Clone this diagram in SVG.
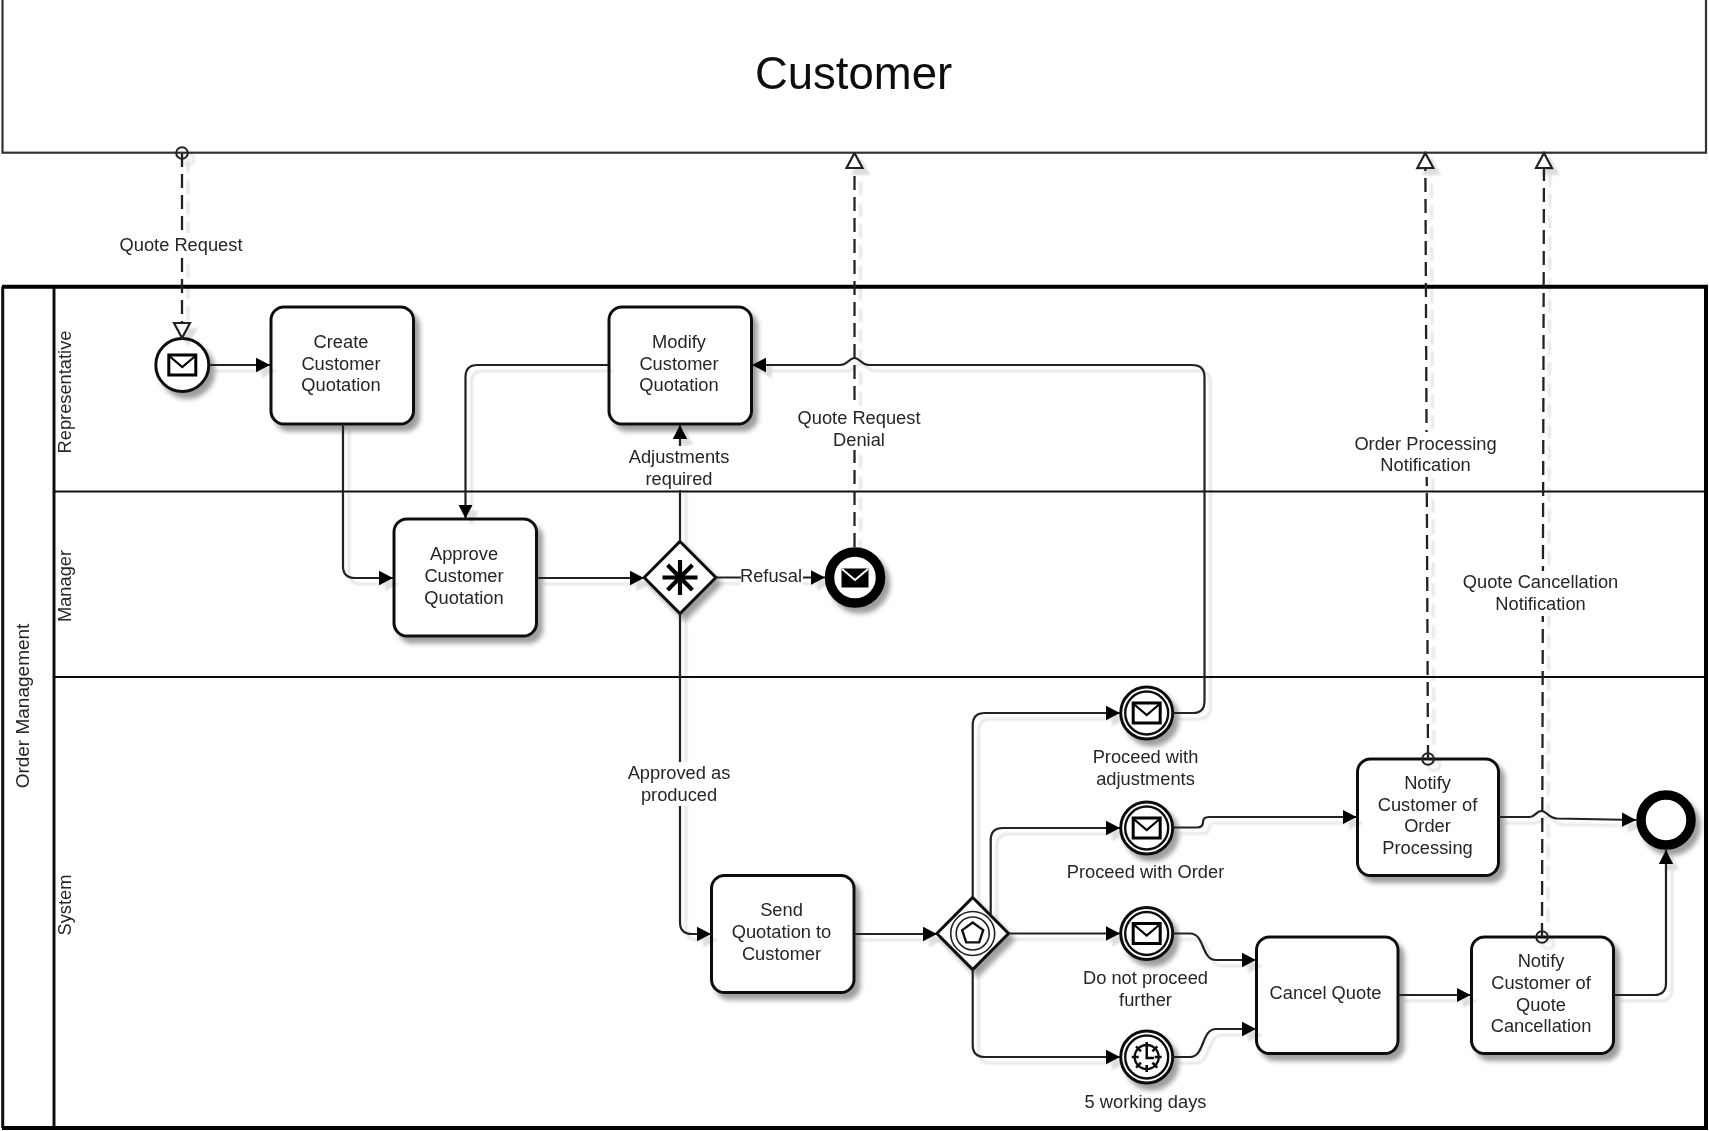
<svg xmlns="http://www.w3.org/2000/svg" width="1709" height="1131" viewBox="0 0 1709 1131">
<style>
text{font-family:"Liberation Sans",Arial,sans-serif;font-size:18.3px;fill:#262626;text-anchor:middle}
.box{fill:#fff;stroke:#111;stroke-width:3}
.flow{fill:none;stroke:#222;stroke-width:2.2;marker-end:url(#arrow)}
.msg{fill:none;stroke:#222;stroke-width:2.3;stroke-dasharray:14 7}
.line{fill:none;stroke:#111}
.bg{fill:#fff}
.ev{fill:#fff;stroke:#111;stroke-width:3}
.in{fill:none;stroke:#111;stroke-width:2.4}
.thin{fill:none;stroke:#222;stroke-width:1.6}
.env{fill:#fff;stroke:#000;stroke-width:3}
.envv{fill:none;stroke:#000;stroke-width:2.2}
</style>
<defs>
<filter id="soft" x="0" y="0" width="1709" height="1131" filterUnits="userSpaceOnUse"><feGaussianBlur stdDeviation="0.7"/></filter>
<filter id="sh" x="-20%" y="-20%" width="150%" height="150%"><feDropShadow dx="5" dy="6" stdDeviation="2.5" flood-color="#000" flood-opacity="0.38"/></filter>
<filter id="shl" x="0" y="0" width="1709" height="1131" filterUnits="userSpaceOnUse"><feDropShadow dx="6" dy="6" stdDeviation="0.8" flood-color="#000" flood-opacity="0.13"/></filter>
<marker id="arrow" markerUnits="userSpaceOnUse" markerWidth="14" markerHeight="16" viewBox="0 0 14 16" refX="14" refY="8" orient="auto"><path d="M0 0.8L14 8L0 15.2Z" fill="#000"/></marker>
<marker id="tri" markerUnits="userSpaceOnUse" markerWidth="18" markerHeight="20" viewBox="0 0 18 20" refX="16.5" refY="10" orient="auto"><path d="M1.5 2L16.5 10L1.5 18Z" fill="#fff" stroke="#222" stroke-width="2.2"/></marker>
<marker id="dot" markerUnits="userSpaceOnUse" markerWidth="16" markerHeight="16" viewBox="0 0 16 16" refX="8" refY="8" orient="auto"><circle cx="8" cy="8" r="5.8" fill="none" stroke="#222" stroke-width="2"/></marker>
<g id="envelope"><rect class="env" x="-13.5" y="-10" width="27" height="20"/><path class="envv" d="M-13 -9L0 2L13 -9"/></g>
</defs>
<rect width="1709" height="1131" fill="#fff"/>
<g filter="url(#soft)">
<g id="pool-customer">
<rect x="2.5" y="-2" width="1703.5" height="154.700" fill="#fff" stroke="#333" stroke-width="2.200"/>
<text x="853.500" y="89" style="font-size:45.500px;fill:#111">Customer</text>
</g>
<g id="pool-order-management">
<path class="line" stroke-width="3" d="M2.700 286.700V1128M54 286.700V1128"/>
<path class="line" stroke-width="2" d="M54 491.500H1706M54 677H1706"/>
<path d="M2 286.700H1706V1128H2" fill="none" stroke="#000" stroke-width="4"/>
<text transform="translate(29 706) rotate(-90)" style="font-size:19px">Order Management</text>
<text transform="translate(71 392) rotate(-90)">Representative</text>
<text transform="translate(71 586) rotate(-90)">Manager</text>
<text transform="translate(71 905) rotate(-90)">System</text>
</g>
<g id="start-quote-request" filter="url(#sh)"><circle class="ev" cx="182.300" cy="365" r="26.500"/><use href="#envelope" transform="translate(182.300 365)"/></g>
<g id="task-create"><rect class="box" filter="url(#sh)" x="271" y="307" width="142.500" height="117" rx="13"/><text><tspan x="341" y="347.500">Create</tspan><tspan x="341" y="369.500">Customer</tspan><tspan x="341" y="391">Quotation</tspan></text></g>
<g id="task-modify"><rect class="box" filter="url(#sh)" x="609" y="307" width="142.500" height="117" rx="13"/><text><tspan x="679" y="347.500">Modify</tspan><tspan x="679" y="369.500">Customer</tspan><tspan x="679" y="391">Quotation</tspan></text></g>
<g id="task-approve"><rect class="box" filter="url(#sh)" x="394" y="519" width="142.500" height="117" rx="13"/><text><tspan x="464" y="560">Approve</tspan><tspan x="464" y="581.500">Customer</tspan><tspan x="464" y="603.500">Quotation</tspan></text></g>
<g id="gateway-complex"><path class="ev" filter="url(#sh)" d="M680 541.500L715.800 577.500L680 613.500L644.200 577.500Z"/><path d="M680 560V595M662.500 577.500H697.500M667.600 565.100L692.400 589.900M692.400 565.100L667.600 589.900" stroke="#000" stroke-width="4.200" fill="none"/></g>
<g id="end-refusal" filter="url(#sh)"><circle cx="855" cy="577.500" r="25.500" fill="#fff" stroke="#000" stroke-width="9.500"/><rect x="841.500" y="568.500" width="27" height="19" fill="#000"/><path d="M842 569L855 580L868 569" fill="none" stroke="#fff" stroke-width="2"/></g>
<g id="task-send"><rect class="box" filter="url(#sh)" x="711.500" y="875.500" width="142.500" height="117" rx="13"/><text><tspan x="781.500" y="916">Send</tspan><tspan x="781.500" y="937.500">Quotation to</tspan><tspan x="781.500" y="960">Customer</tspan></text></g>
<g id="gateway-event"><path class="ev" filter="url(#sh)" d="M972.700 897.500L1008.500 933.500L972.700 969.500L936.900 933.500Z"/><circle class="thin" cx="972.700" cy="933.500" r="22"/><circle class="thin" cx="972.700" cy="933.500" r="16.500"/><path class="in" d="M972.700 922.500L983.200 930.100L979.200 942.400H966.200L962.200 930.100Z"/></g>
<g id="event-adjustments" filter="url(#sh)"><circle class="ev" cx="1146.700" cy="713" r="26"/><circle class="in" cx="1146.700" cy="713" r="21.500"/><use href="#envelope" transform="translate(1146.700 713)"/></g>
<g id="event-order" filter="url(#sh)"><circle class="ev" cx="1146.700" cy="828" r="26"/><circle class="in" cx="1146.700" cy="828" r="21.500"/><use href="#envelope" transform="translate(1146.700 828)"/></g>
<g id="event-no-proceed" filter="url(#sh)"><circle class="ev" cx="1146.700" cy="933.500" r="26"/><circle class="in" cx="1146.700" cy="933.500" r="21.500"/><use href="#envelope" transform="translate(1146.700 933.500)"/></g>
<g id="event-timer" filter="url(#sh)"><circle class="ev" cx="1146.700" cy="1057" r="26"/><circle class="in" cx="1146.700" cy="1057" r="21.500"/><circle class="in" cx="1146.700" cy="1057" r="12"/><path d="M1146.700 1042V1049M1146.700 1065V1072M1131.700 1057H1138.700M1154.700 1057H1161.700M1136.100 1046.400L1141 1051.300M1152.400 1062.700L1157.300 1067.600M1157.300 1046.400L1152.400 1051.300M1141 1062.700L1136.100 1067.600" stroke="#111" stroke-width="2.600" fill="none"/><path d="M1146.700 1049V1058H1154" stroke="#000" stroke-width="2.400" fill="none"/></g>
<g id="task-notify-order"><rect class="box" filter="url(#sh)" x="1357.500" y="759" width="141" height="116.500" rx="13"/><text><tspan x="1427.500" y="788.500">Notify</tspan><tspan x="1427.500" y="810.500">Customer of</tspan><tspan x="1427.500" y="832">Order</tspan><tspan x="1427.500" y="854">Processing</tspan></text></g>
<g id="task-cancel"><rect class="box" filter="url(#sh)" x="1256.500" y="937" width="141.500" height="116.500" rx="13"/><text x="1325.500" y="999">Cancel Quote</text></g>
<g id="task-notify-cancel"><rect class="box" filter="url(#sh)" x="1471.500" y="937" width="142" height="116.500" rx="13"/><text><tspan x="1541" y="966.500">Notify</tspan><tspan x="1541" y="988.500">Customer of</tspan><tspan x="1541" y="1010.500">Quote</tspan><tspan x="1541" y="1032">Cancellation</tspan></text></g>
<g id="end" filter="url(#sh)"><circle cx="1666" cy="820" r="25" fill="#fff" stroke="#000" stroke-width="9.500"/></g>
<g id="connectors" filter="url(#shl)">
<path class="flow" d="M209 365H270"/>
<path class="flow" d="M343 424V566Q343 578 355 578H393"/>
<path class="flow" d="M537 578H644"/>
<path class="flow" d="M680 541V425"/>
<path class="flow" d="M608 365H477.500Q465.500 365 465.500 377V518.500"/>
<path class="flow" d="M716 577.500H825"/>
<path class="flow" d="M680 613.500V922Q680 934 692 934H711"/>
<path class="flow" d="M854.500 934H937"/>
<path class="flow" d="M972.700 897.500V725Q972.700 713 985 713H1120"/>
<path class="flow" d="M990.700 915.500V840Q990.700 828 1003 828H1120"/>
<path class="flow" d="M1008.500 933.500H1120"/>
<path class="flow" d="M972.700 969.500V1045Q972.700 1057 985 1057H1120"/>
<path class="flow" d="M1173 713H1193Q1204.500 713 1204.500 701V377Q1204.500 365 1192 365H869C861 365 860 358 854.500 358C849 358 848 365 840 365H752"/>
<path class="flow" d="M1173 827.500H1197Q1203 827.500 1203 822Q1203 817 1209 817H1356.500"/>
<path class="flow" d="M1173 933.500H1190C1205 933.500 1201 960 1216 960H1256"/>
<path class="flow" d="M1173 1057H1190C1205 1057 1201 1029 1216 1029H1256"/>
<path class="flow" d="M1398.500 995H1470.500"/>
<path class="flow" d="M1499 817H1530C1535 817 1536 811 1541.500 811C1547 811 1548 818 1557 818.500L1636 820"/>
<path class="flow" d="M1614 995H1654Q1666 995 1666 983V850"/>
<path class="msg" style="marker-start:url(#dot);marker-end:url(#tri)" d="M182 153V338"/>
<path class="msg" style="marker-end:url(#tri)" d="M854.500 547V153"/>
<path class="msg" style="marker-start:url(#dot);marker-end:url(#tri)" d="M1428 759L1425.300 153"/>
<path class="msg" style="marker-start:url(#dot);marker-end:url(#tri)" d="M1542 937L1544 153"/>
</g>
<g id="labels">
<rect class="bg" x="117" y="233" width="130" height="24"/><text x="181" y="250.500">Quote Request</text>
<rect class="bg" x="626" y="446" width="107" height="44"/><text><tspan x="679" y="462.500">Adjustments</tspan><tspan x="679" y="484.500">required</tspan></text>
<rect class="bg" x="795" y="406" width="128" height="44"/><text><tspan x="859" y="423.500">Quote Request</tspan><tspan x="859" y="445.500">Denial</tspan></text>
<rect class="bg" x="1351" y="432" width="150" height="45"/><text><tspan x="1425.500" y="449.500">Order Processing</tspan><tspan x="1425.500" y="471">Notification</tspan></text>
<rect class="bg" x="1461" y="571" width="160" height="45"/><text><tspan x="1540.500" y="588">Quote Cancellation</tspan><tspan x="1540.500" y="609.500">Notification</tspan></text>
<rect class="bg" x="741" y="565" width="62" height="22"/><text x="771" y="581.500">Refusal</text>
<rect class="bg" x="626" y="762" width="106" height="44"/><text><tspan x="679" y="778.500">Approved as</tspan><tspan x="679" y="800.500">produced</tspan></text>
<text><tspan x="1145.500" y="763">Proceed with</tspan><tspan x="1145.500" y="785">adjustments</tspan></text>
<text x="1145.500" y="878">Proceed with Order</text>
<text><tspan x="1145.500" y="984">Do not proceed</tspan><tspan x="1145.500" y="1006">further</tspan></text>
<text x="1145.500" y="1107.500">5 working days</text>
</g>
</g>
</svg>
